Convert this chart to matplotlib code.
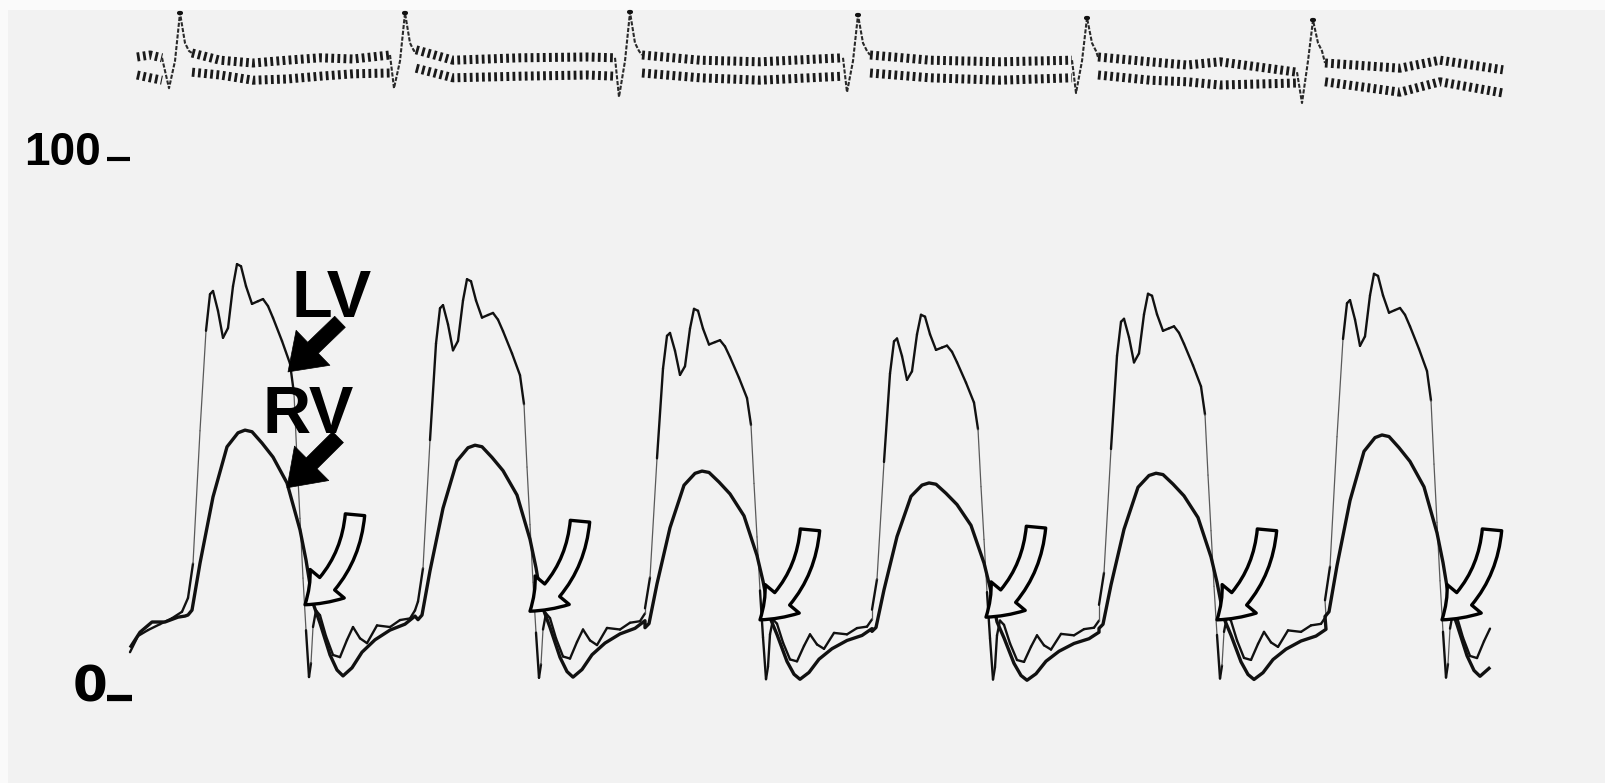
import numpy as np
import matplotlib
matplotlib.use("Agg")
import matplotlib.pyplot as plt
from matplotlib.patches import FancyArrowPatch, Rectangle
from matplotlib.collections import LineCollection

plt.rcParams['lines.scale_dashes'] = False
plt.rcParams['font.family'] = ['Liberation Sans', 'DejaVu Sans']

# LV upstroke time of each beat (chart units) and systolic peaks (mmHg)
beat_onset = [200, 430, 657, 884, 1111, 1337]
lv_peak = [80.5, 77.7, 72.2, 71.1, 75.0, 78.7]
rv_peak = [49.7, 46.9, 42.1, 39.9, 41.7, 48.8]
trace_end = 1490

lv_cycle_t = [-12, -7, 0, 6, 10, 13, 18, 23, 28, 33, 37, 41, 46, 52, 58, 63, 68, 73, 82, 90,
              94, 97, 100, 103, 106, 109, 111, 113, 116, 120, 126, 133, 140, 147, 153, 160,
              167, 177, 190, 200, 210, 215]
lv_cycle_p = [18.6, 25.0, 49.7, 68.3, 75.1, 75.7, 72.0, 67.0, 68.8, 76.6, 80.7, 80.3, 76.6,
              73.3, 73.8, 74.2, 72.9, 70.7, 66.4, 62.2, 56.6, 44.5, 33.4, 22.3, 12.6, 3.9,
              6.5, 13.2, 16.3, 15.4, 11.5, 8.0, 7.6, 10.8, 13.2, 11.1, 10.2, 13.5, 13.2,
              14.5, 14.8, 16.3]
rv_cycle_t = [-12, -8, 0, 13, 27, 38, 45, 52, 62, 73, 87, 100, 106, 113, 120, 130, 137, 143,
              152, 162, 175, 190, 205, 215]
rv_cycle_p = [15.4, 16.3, 25.0, 37.3, 46.6, 49.2, 49.7, 49.4, 47.3, 44.7, 39.9, 31.2, 25.6,
              17.6, 13.9, 8.0, 5.2, 4.1, 5.6, 8.5, 10.8, 12.6, 13.7, 15.2]

# lead-in before the first beat
lv_lead_t = [130, 138, 148, 160, 172, 182]
lv_lead_p = [8.5, 11.5, 12.6, 13.7, 14.8, 16.0]
rv_lead_t = [131, 140, 152, 165, 178, 185]
rv_lead_p = [9.6, 12.2, 14.1, 14.1, 15.0, 15.2]

# LV/RV crossover points marked by the open arrows
crossover_t = [305, 530, 760, 986, 1217, 1442]
crossover_p = [17.3, 16.1, 14.5, 15.0, 14.5, 14.5]

# ECG (mV): baseline band between complexes, upper and lower row
ecg_seg_t = [
    [137, 150, 162],
    [192, 220, 253, 287, 320, 353, 390],
    [416, 453, 520, 587, 615],
    [642, 700, 760, 843],
    [870, 930, 1000, 1072],
    [1098, 1150, 1187, 1220, 1297],
    [1325, 1400, 1440, 1503],
]
ecg_seg_hi = [
    [0.20, 0.25, 0.18],
    [0.30, 0.12, 0.05, 0.12, 0.18, 0.15, 0.25],
    [0.38, 0.12, 0.18, 0.20, 0.18],
    [0.25, 0.12, 0.08, 0.18],
    [0.25, 0.12, 0.08, 0.12],
    [0.20, 0.08, 0.00, 0.08, -0.18],
    [0.05, -0.08, 0.12, -0.12],
]
ecg_seg_lo = [
    [-0.25, -0.32, -0.38],
    [-0.18, -0.25, -0.38, -0.35, -0.28, -0.22, -0.20],
    [-0.08, -0.32, -0.28, -0.25, -0.28],
    [-0.20, -0.32, -0.38, -0.28],
    [-0.20, -0.32, -0.38, -0.32],
    [-0.25, -0.38, -0.42, -0.50, -0.45],
    [-0.42, -0.68, -0.42, -0.70],
]
qrs_t = [180, 405, 630, 858, 1087, 1313]
qrs_top = [1.30, 1.30, 1.32, 1.25, 1.18, 1.12]
qrs_nadir = [-0.58, -0.58, -0.80, -0.68, -0.70, -0.95]

bg = '#f2f2f2'
ink = '#111111'


def build_trace(lead_t, lead_p, cyc_t, cyc_p, peaks):
    t, p = list(lead_t), list(lead_p)
    ref = max(cyc_p)
    for onset, peak in zip(beat_onset, peaks):
        for dt, v in zip(cyc_t, cyc_p):
            if onset + dt <= trace_end:
                t.append(onset + dt)
                p.append(v * peak / ref)
    return t, p


lv_t, lv_p = build_trace(lv_lead_t, lv_lead_p, lv_cycle_t, lv_cycle_p, lv_peak)
rv_t, rv_p = build_trace(rv_lead_t, rv_lead_p, rv_cycle_t, rv_cycle_p, rv_peak)

fig = plt.figure(figsize=(16.06, 7.83), dpi=100)
fig.patch.set_facecolor('#fafafa')
fig.add_artist(Rectangle((8 / 1606, 0), 1, 773 / 783, transform=fig.transFigure,
                         fc=bg, ec='none', zorder=-10))

# pressure panel (whole figure)
ax = fig.add_axes([0, 0, 1, 1])
ax.set_xlim(0, 1606)
ax.set_ylim(-15.77, 129.5)
ax.axis('off')

# the LV pen goes thin and faint on its fast strokes
pts = np.column_stack([lv_t, lv_p])
segs = np.stack([pts[:-1], pts[1:]], axis=1)
slope = np.abs(np.diff(lv_p)) / np.maximum(np.diff(lv_t), 1e-6)
fast = slope > 3.0
ax.add_collection(LineCollection(segs, colors=np.where(fast, '#5a5a5a', ink),
                                 linewidths=np.where(fast, 0.9, 1.7),
                                 capstyle='round', joinstyle='round', zorder=3))
ax.plot(rv_t, rv_p, color=ink, lw=2.4, solid_joinstyle='round', zorder=3)

# open curved arrows at the crossovers
for ct, cp in zip(crossover_t, crossover_p):
    ax.add_patch(FancyArrowPatch((ct + 50, cp + 16.7), (ct, cp),
                                 arrowstyle='simple,head_length=22,head_width=32,tail_width=14',
                                 connectionstyle='arc3,rad=-0.22', mutation_scale=1,
                                 shrinkA=0, shrinkB=0, fc=bg, ec='black', lw=2.4, zorder=4))

# solid arrows for the labels
for tail, tip in [((340, 69.8), (288, 60.5)), ((338, 48.4), (287, 39.0))]:
    ax.add_patch(FancyArrowPatch(tail, tip,
                                 arrowstyle='simple,head_length=25,head_width=35,tail_width=11',
                                 mutation_scale=1, shrinkA=0, shrinkB=0,
                                 fc='black', ec='black', lw=0.5, zorder=5))

ax.text(332, 70.7, 'LV', ha='center', va='baseline', fontsize=48, fontweight='bold',
        color='black', zorder=6)
ax.text(308, 49.2, 'RV', ha='center', va='baseline', fontsize=48, fontweight='bold',
        color='black', zorder=6)

# calibration marks
ax.text(101, 98.9, '100', ha='right', va='baseline', fontsize=33, fontweight='bold', color='black')
ax.plot([107, 130], [100, 100], color='black', lw=3, solid_capstyle='butt')
ax.text(107, -0.7, '0', ha='right', va='baseline', fontsize=36, fontweight='bold',
        family='DejaVu Sans', color='black')
ax.plot([107, 132], [0, 0], color='black', lw=4.5, solid_capstyle='butt')

# ECG strip along the top
ax_ecg = fig.add_axes([0, 653 / 783, 1, 130 / 783])
ax_ecg.set_xlim(0, 1606)
ax_ecg.set_ylim(-1.625, 1.625)
ax_ecg.axis('off')

for st, hi, lo in zip(ecg_seg_t, ecg_seg_hi, ecg_seg_lo):
    for row in (hi, lo):
        ax_ecg.plot(st, row, color='#1a1a1a', lw=6.5, linestyle=(0, (2.0, 2.4)))

for i, (qt, top, nad) in enumerate(zip(qrs_t, qrs_top, qrs_nadir)):
    xs = [ecg_seg_t[i][-1], qt - 11, qt - 5, qt, qt + 5, qt + 9, ecg_seg_t[i + 1][0]]
    ys = [ecg_seg_hi[i][-1], nad, 0.1, top, 0.55, 0.35, ecg_seg_hi[i + 1][0]]
    ax_ecg.plot(xs, ys, color='#2a2a2a', lw=1.5, linestyle=(0, (3, 1.2)), solid_joinstyle='round')
    ax_ecg.plot([qt - 1, qt + 1], [top, top], color='#111111', lw=3, solid_capstyle='round')

fig.savefig('out.png', dpi=100, facecolor=fig.get_facecolor())
